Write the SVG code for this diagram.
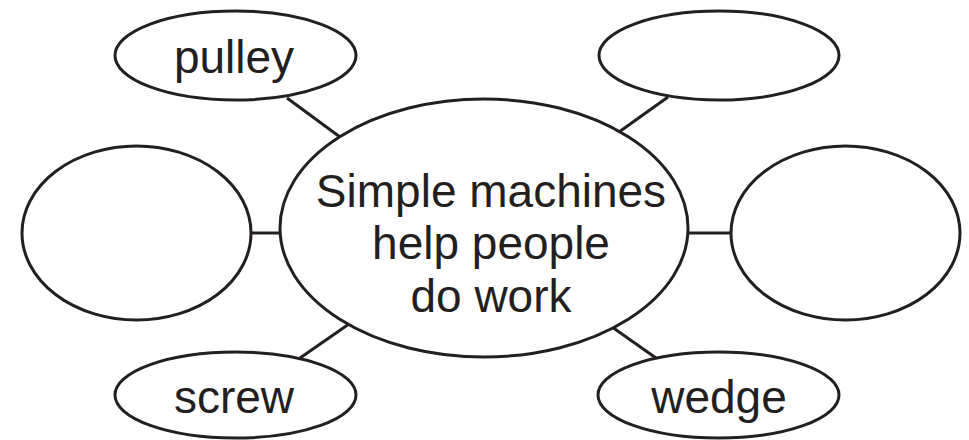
<svg xmlns="http://www.w3.org/2000/svg" width="969" height="440" viewBox="0 0 969 440">
<style>
.shape{fill:#fff;stroke:#231f20;stroke-width:3}
.conn line{stroke:#231f20;stroke-width:3}
text{font-family:"Liberation Sans",Arial,sans-serif;font-size:46px;fill:#231f20;text-anchor:middle}
</style>
<rect width="969" height="440" fill="#fff"/>
<g id="connectors" class="conn">
<line x1="287" y1="98" x2="340" y2="137"/>
<line x1="668" y1="97" x2="619" y2="132"/>
<line x1="251" y1="233" x2="281" y2="233"/>
<line x1="688" y1="233" x2="731" y2="233"/>
<line x1="300" y1="358" x2="349" y2="324"/>
<line x1="656" y1="358" x2="612" y2="327"/>
</g>
<g id="center">
<ellipse class="shape" cx="484" cy="228" rx="204" ry="129"/>
<text x="491" y="207">Simple machines</text>
<text x="491" y="259">help people</text>
<text x="491" y="312">do work</text>
</g>
<g id="pulley">
<ellipse class="shape" cx="235.5" cy="55.5" rx="120.5" ry="44.5"/>
<text x="234" y="73">pulley</text>
</g>
<g id="topright">
<ellipse class="shape" cx="719" cy="55.5" rx="120" ry="44.5"/>
</g>
<g id="left">
<ellipse class="shape" cx="136.5" cy="233" rx="114.5" ry="87"/>
</g>
<g id="right">
<ellipse class="shape" cx="845.5" cy="233" rx="114.5" ry="87"/>
</g>
<g id="screw">
<ellipse class="shape" cx="235.5" cy="395" rx="120.5" ry="43"/>
<text x="234" y="413">screw</text>
</g>
<g id="wedge">
<ellipse class="shape" cx="718.5" cy="395" rx="120.5" ry="43"/>
<text x="719" y="413">wedge</text>
</g>
</svg>
